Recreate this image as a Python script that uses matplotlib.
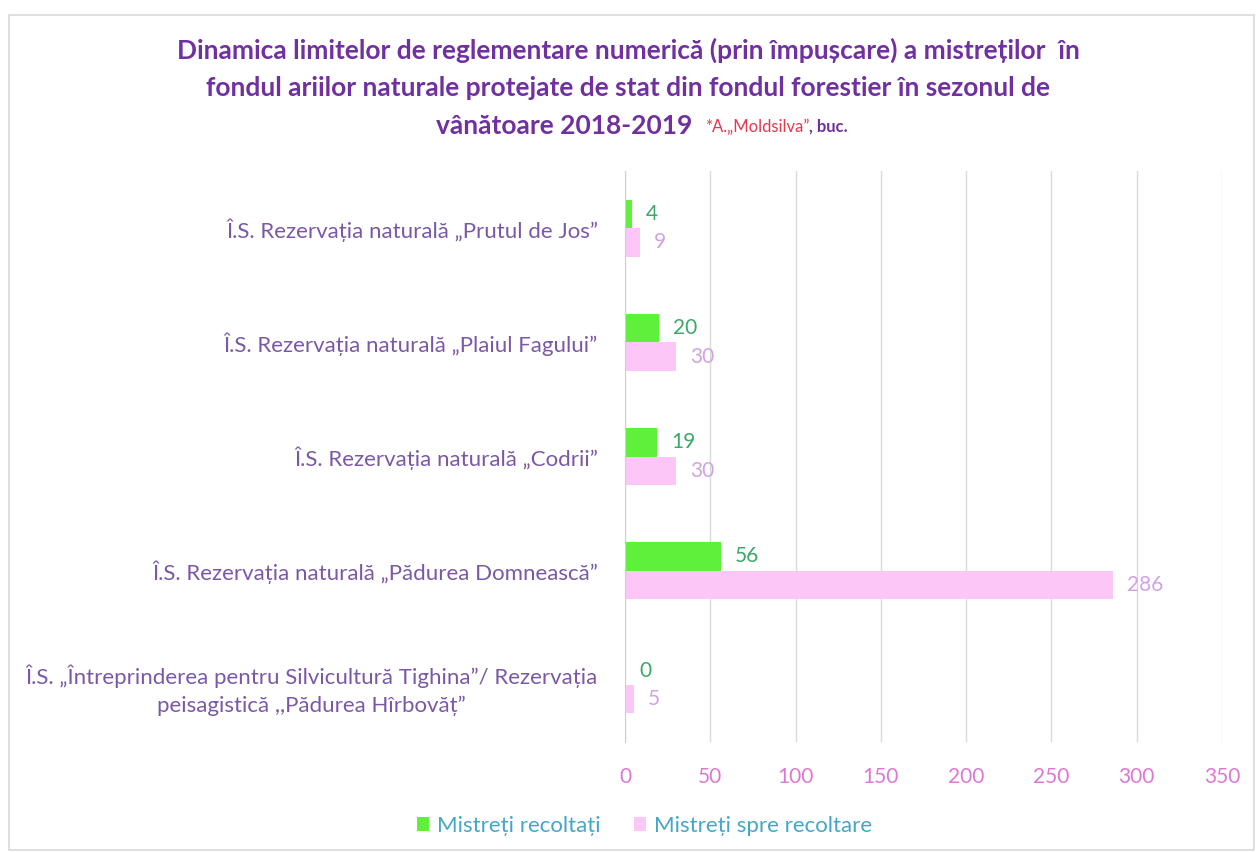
import numpy as np
import matplotlib.pyplot as plt
from matplotlib.patches import Rectangle

plt.rcParams['font.family'] = ['Lato', 'DejaVu Sans']

categories = [
    'Î.S. Rezervația naturală „Prutul de Jos”',
    'Î.S. Rezervația naturală „Plaiul Fagului”',
    'Î.S. Rezervația naturală „Codrii”',
    'Î.S. Rezervația naturală „Pădurea Domnească”',
    'Î.S. „Întreprinderea pentru Silvicultură Tighina”/ Rezervația\npeisagistică ,,Pădurea Hîrbovăț”',
]
recoltati = [4, 20, 19, 56, 0]
spre_recoltare = [9, 30, 30, 286, 5]
xticks = [0, 50, 100, 150, 200, 250, 300, 350]

green = '#5ef03a'
pink = '#fcc6f6'
purple = '#7030a0'
label_purple = '#7b58a6'

fig = plt.figure(figsize=(12.56, 8.52), dpi=100)
fig.patches.append(Rectangle((9 / 1256, 0.002), 1 - 11 / 1256, 1 - 17 / 852,
                             transform=fig.transFigure, fill=False,
                             edgecolor='#d9d9d9', lw=1.2))

ax = fig.add_axes([625 / 1256, 1 - 742 / 852, 597 / 1256, 571 / 852])
y = np.arange(len(categories))
h = 0.25
ax.barh(y - h / 2, recoltati, height=h, color=green, label='Mistreți recoltați')
ax.barh(y + h / 2, spre_recoltare, height=h, color=pink, label='Mistreți spre recoltare')

for i in range(len(categories)):
    ax.annotate(str(recoltati[i]), (recoltati[i], y[i] - h / 2), xytext=(10, 0),
                textcoords='offset points', va='center', ha='left',
                color='#3aa86a', fontsize=15)
    ax.annotate(str(spre_recoltare[i]), (spre_recoltare[i], y[i] + h / 2), xytext=(10, 0),
                textcoords='offset points', va='center', ha='left',
                color='#cfa3e4', fontsize=15)

ax.set_ylim(len(categories) - 0.5, -0.5)
ax.set_xlim(0, 350)
ax.set_xticks(xticks)
ax.set_xticklabels([str(t) for t in xticks], color='#dc78d4', fontsize=15)
ax.set_yticks(y)
ax.set_yticklabels(categories, color=label_purple, fontsize=16,
                   multialignment='center', linespacing=1.45)
ax.tick_params(axis='both', length=0)
ax.tick_params(axis='x', pad=18)
ax.tick_params(axis='y', pad=19.5)
ax.grid(axis='x', color='#dadada', lw=1)
ax.set_axisbelow(True)
for s in ['top', 'right', 'bottom']:
    ax.spines[s].set_visible(False)
ax.spines['left'].set_color('#d0d0d0')

fig.legend(loc='center', bbox_to_anchor=(0.513, 1 - 826 / 852), ncol=2, frameon=False,
           fontsize=16, labelcolor='#45a6c8', handlelength=0.55, handleheight=0.55,
           handletextpad=0.35, columnspacing=1.5)

fig.text(0.5, 1 - 50 / 852,
         'Dinamica limitelor de reglementare numerică (prin împușcare) a mistreților  în',
         ha='center', va='center', fontsize=19, fontweight='bold', color=purple)
fig.text(0.5, 1 - 88 / 852,
         'fondul ariilor naturale protejate de stat din fondul forestier în sezonul de',
         ha='center', va='center', fontsize=19, fontweight='bold', color=purple)
t1 = fig.text(0, 1 - 126 / 852, 'vânătoare 2018-2019  ', ha='left', va='center',
              fontsize=19, fontweight='bold', color=purple)
t2 = fig.text(0, 1 - 127 / 852, '*A.„Moldsilva”', ha='left', va='center',
              fontsize=12, color='#e8364e')
t3 = fig.text(0, 1 - 127 / 852, ', buc.', ha='left', va='center',
              fontsize=12, fontweight='bold', color=purple)

fig.canvas.draw()
r = fig.canvas.get_renderer()
w1 = t1.get_window_extent(r).width
w2 = t2.get_window_extent(r).width
w3 = t3.get_window_extent(r).width
x0 = (1256 - (w1 + w2 + w3)) / 2 + 14
t1.set_x(x0 / 1256)
t2.set_x((x0 + w1) / 1256)
t3.set_x((x0 + w1 + w2) / 1256)

fig.savefig('out.png', dpi=100)
